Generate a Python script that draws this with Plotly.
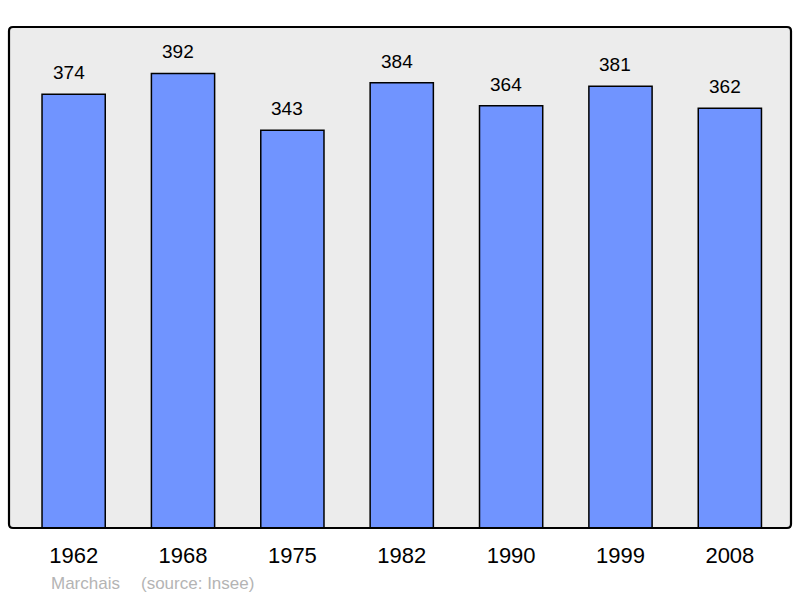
import plotly.graph_objects as go

years = ["1962", "1968", "1975", "1982", "1990", "1999", "2008"]
population = [374, 392, 343, 384, 364, 381, 362]
commune = "Marchais"
source = "(source: Insee)"

FONT = "Liberation Sans, Arial, sans-serif"

fig = go.Figure()
fig.add_trace(go.Bar(
    x=years, y=population, width=0.578,
    marker=dict(color="#7094ff", line=dict(color="#000000", width=1.5)),
    hoverinfo="skip",
))

annotations = []
for i, v in enumerate(population):
    annotations.append(dict(
        x=i, y=v, xref="x", yref="y", text=str(v), showarrow=False,
        yanchor="middle", yshift=21.5, xshift=-5,
        font=dict(family=FONT, size=19, color="#000000"),
    ))
annotations.append(dict(
    x=(49 - 9) / 782, y=(528.5 - 584) / 501, xref="paper", yref="paper",
    text=commune, showarrow=False, xanchor="left", yanchor="middle",
    font=dict(family=FONT, size=17, color="#b4b4b4"),
))
annotations.append(dict(
    x=(139 - 9) / 782, y=(528.5 - 584) / 501, xref="paper", yref="paper",
    text=source, showarrow=False, xanchor="left", yanchor="middle",
    font=dict(family=FONT, size=17, color="#b4b4b4"),
))

# rounded plot-area frame in paper coordinates
rx, ry = 4 / 782, 4 / 501
frame = (f"M {rx},0 L {1-rx},0 Q 1,0 1,{ry} L 1,{1-ry} Q 1,1 {1-rx},1 "
         f"L {rx},1 Q 0,1 0,{1-ry} L 0,{ry} Q 0,0 {rx},0 Z")

fig.update_layout(
    width=800, height=598,
    margin=dict(l=9, r=9, t=27, b=70, pad=0),
    paper_bgcolor="#ffffff", plot_bgcolor="#ececec",
    showlegend=False,
    annotations=annotations,
    shapes=[dict(type="path", xref="paper", yref="paper", path=frame,
                 line=dict(color="#000000", width=2.2), layer="above")],
    xaxis=dict(type="category", range=[-0.591, 6.559], showgrid=False, zeroline=False,
               showline=False, ticks="outside", ticklen=8, tickcolor="rgba(0,0,0,0)",
               tickfont=dict(family=FONT, size=22, color="#000000"), fixedrange=True),
    yaxis=dict(range=[0, 432], showgrid=False, zeroline=False, showline=False,
               showticklabels=False, ticks="", fixedrange=True),
)

fig.write_html("out.html", config={"displayModeBar": False},
               post_script="document.body.style.margin='0';")
